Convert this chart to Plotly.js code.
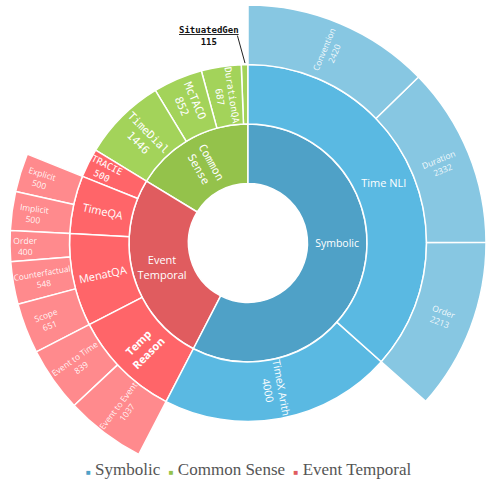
<!DOCTYPE html>
<html>
<head>
<meta charset="utf-8">
<script src="https://cdn.plot.ly/plotly-3.0.1.min.js"></script>
<style>html,body{margin:0;padding:0;background:#fff;}#chart{width:486px;height:481px;}</style>
</head>
<body>
<div id="chart"></div>
<script>
// ---- data ----
const groups = ['Symbolic', 'Common Sense', 'Event Temporal'];

const ids = ['Symbolic', 'Common Sense', 'Event Temporal',
  'Time NLI', 'TimeX Arith',
  'TimeDial', 'McTACO', 'DurationQA', 'SituatedGen',
  'TRACIE', 'TimeQA', 'MenatQA', 'Temp Reason',
  'Time NLI/Convention', 'Time NLI/Duration', 'Time NLI/Order',
  'TimeQA/Explicit', 'TimeQA/Implicit',
  'MenatQA/Order', 'MenatQA/Counterfactual', 'MenatQA/Scope',
  'Temp Reason/Event to Time', 'Temp Reason/Event to Event'];

const labels = ['Symbolic', 'Common Sense', 'Event Temporal',
  'Time NLI', 'TimeX Arith',
  'TimeDial', 'McTACO', 'DurationQA', 'SituatedGen',
  'TRACIE', 'TimeQA', 'MenatQA', 'Temp Reason',
  'Convention', 'Duration', 'Order',
  'Explicit', 'Implicit',
  'Order', 'Counterfactual', 'Scope',
  'Event to Time', 'Event to Event'];

const parents = ['', '', '',
  'Symbolic', 'Symbolic',
  'Common Sense', 'Common Sense', 'Common Sense', 'Common Sense',
  'Event Temporal', 'Event Temporal', 'Event Temporal', 'Event Temporal',
  'Time NLI', 'Time NLI', 'Time NLI',
  'TimeQA', 'TimeQA',
  'MenatQA', 'MenatQA', 'MenatQA',
  'Temp Reason', 'Temp Reason'];

// leaf values (parents get 0 and are summed by the library)
const values = [0, 0, 0,
  0, 4000,
  1446, 852, 687, 115,
  500, 0, 0, 0,
  2420, 2332, 2213,
  500, 500,
  400, 548, 651,
  839, 1037];

// ---- helpers ----
const idx = id => ids.indexOf(id);
const isLeaf = id => !parents.includes(id);
const totalOf = id => isLeaf(id) ? values[idx(id)]
  : ids.filter(c => parents[idx(c)] === id).reduce((s, c) => s + totalOf(c), 0);
const groupOf = id => parents[idx(id)] === '' ? id : groupOf(parents[idx(id)]);
const depthOf = id => parents[idx(id)] === '' ? 1 : 1 + depthOf(parents[idx(id)]);

// the library lays siblings counter-clockwise in input order:
// feed them smallest first so they read largest-first clockwise from 12 o'clock
const order = ids.map((id, i) => i).sort((a, b) => totalOf(ids[a]) - totalOf(ids[b]));

const palette = {
  'Symbolic':       ['#4FA1C7', '#5AB9E2', '#87C7E2'],
  'Common Sense':   ['#94C24B', '#A3D35A', '#A3D35A'],
  'Event Temporal': ['#E05C5F', '#FF6569', '#FF8A8D']
};
const monoIds = ['Common Sense', 'TimeDial', 'McTACO', 'DurationQA', 'SituatedGen', 'TRACIE'];
const twoLine = {'Event Temporal': 'Event<br>Temporal', 'Common Sense': 'Common<br>Sense', 'Temp Reason': 'Temp<br>Reason'};
// labels whose sectors straddle the horizontal axis: drawn by a second, text-only pass
const midLabelIds = ['Time NLI', 'Event Temporal'];

const rootId = 'All';
const tIds = [rootId], tLabels = [''], tParents = [''], tValues = [0];
const colors = ['#ffffff'], texts = [''], texts2 = [''], fams = ['Open Sans'], sizes = [10], tcols = ['#ffffff'];
order.forEach(i => {
  const id = ids[i];
  tIds.push(id);
  tLabels.push(labels[i]);
  tParents.push(parents[i] === '' ? rootId : parents[i]);
  tValues.push(values[i]);
  const g = groupOf(id), d = depthOf(id);
  colors.push(palette[g][d - 1]);
  const lab = twoLine[id] || labels[i];
  let t = isLeaf(id) ? lab + '<br>' + values[i] : lab;
  if (id === 'SituatedGen') t = '';
  if (id === 'Temp Reason') t = '<b>' + lab + '</b>';
  if (midLabelIds.includes(id)) { texts.push(''); texts2.push(t); }
  else { texts.push(t); texts2.push(''); }
  fams.push(monoIds.includes(id) ? 'DejaVu Sans Mono' : 'Open Sans');
  sizes.push(id === 'Symbolic' ? 10.5 : (d === 3 ? 8.5 : 11));
  tcols.push(d === 3 ? 'rgba(255,255,255,0.92)' : '#ffffff');
});

const base = {
  type: 'sunburst',
  ids: tIds, labels: tLabels, parents: tParents, values: tValues,
  branchvalues: 'remainder',
  sort: false,
  rotation: 90,
  textinfo: 'text',
  textfont: {family: fams, size: sizes, color: tcols},
  insidetextfont: {family: fams, size: sizes, color: tcols},
  leaf: {opacity: 1},
  hoverinfo: 'label+value'
};

const traces = [
  Object.assign({}, base, {
    text: texts,
    insidetextorientation: 'radial',
    marker: {colors: colors, line: {color: '#ffffff', width: 1.5}}
  }),
  Object.assign({}, base, {
    text: texts2,
    insidetextorientation: 'auto',
    marker: {colors: tIds.map(() => 'rgba(0,0,0,0)'), line: {color: 'rgba(0,0,0,0)', width: 0}},
    hoverinfo: 'skip'
  })
];

// legend as a single line of text with coloured squares
const sq = c => '<span style="color:' + c + ';font-size:8px">\u25A0</span>';
const legendText = groups.map(g => sq(palette[g][0]) + ' ' + g).join('&nbsp;&nbsp;');

const layout = {
  width: 486, height: 481,
  margin: {l: 10, r: 0, t: 5, b: 0},
  paper_bgcolor: '#ffffff',
  showlegend: false,
  annotations: [
    {xref: 'paper', yref: 'paper', x: 0.5, y: 0.025, xanchor: 'center', yanchor: 'middle',
     text: legendText, showarrow: false,
     font: {family: 'Liberation Serif', size: 17, color: '#555555'}},
    {xref: 'paper', yref: 'paper', x: 0.418, y: 0.935, xanchor: 'center', yanchor: 'middle',
     text: '<b><u>SituatedGen</u></b><br><b>115</b>',
     showarrow: false, font: {family: 'DejaVu Sans Mono', size: 9, color: '#111111'}},
    {xref: 'paper', yref: 'paper', x: 0.4937, y: 0.878, text: '',
     showarrow: true, arrowhead: 0, arrowwidth: 1, arrowcolor: '#222222',
     axref: 'pixel', ayref: 'pixel', ax: -8, ay: -29, standoff: 0, startstandoff: 0}
  ]
};

Plotly.newPlot('chart', traces, layout, {displayModeBar: false, staticPlot: true});
</script>
</body>
</html>
